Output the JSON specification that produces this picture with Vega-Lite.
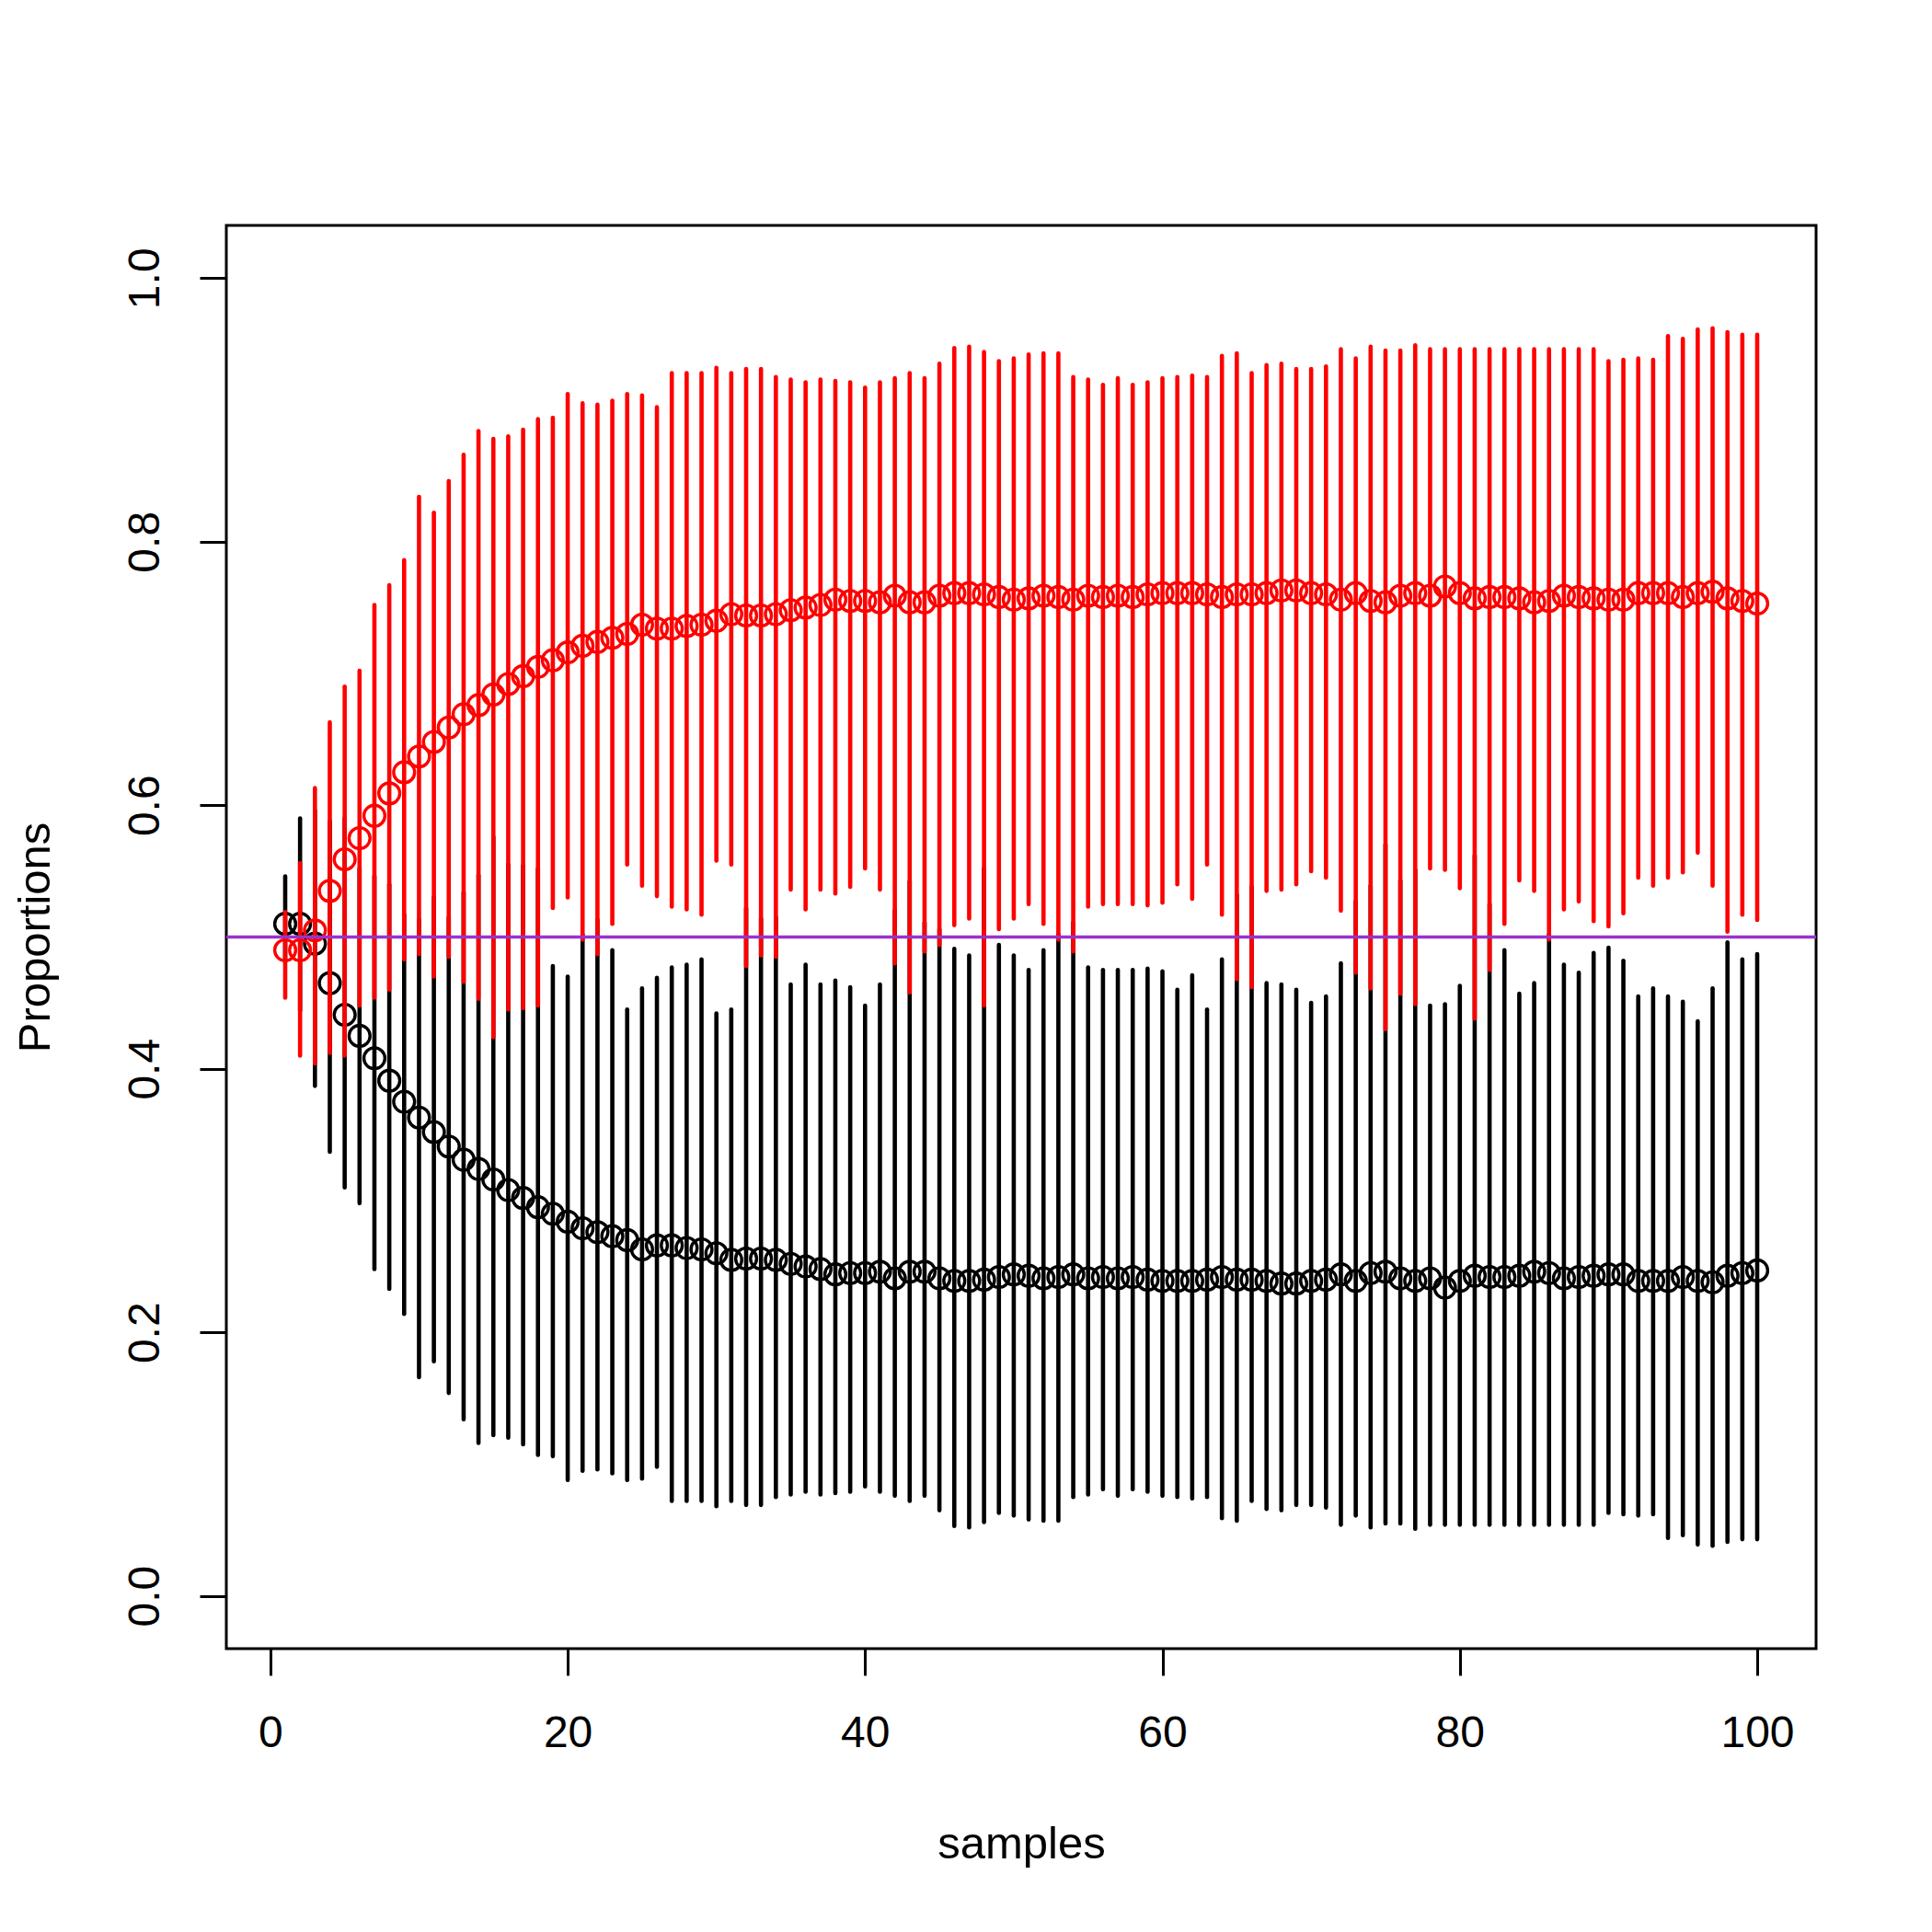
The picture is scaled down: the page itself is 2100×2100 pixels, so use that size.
{
"$schema": "https://vega.github.io/schema/vega-lite/v6.json",
"width": 1728, "height": 1547,
"autosize": {"type": "none"},
"padding": {"left": 246, "top": 245, "right": 126, "bottom": 308},
"background": "white",
"config": {"view": {"stroke": "black", "strokeWidth": 3}, "font": "Liberation Sans"},
"datasets": {
"black": [
{"sample":1,"mean":0.510,"lo":0.481,"hi":0.546},{"sample":2,"mean":0.510,"lo":0.444,"hi":0.590},{"sample":3,"mean":0.495,"lo":0.387,"hi":0.596},{"sample":4,"mean":0.465,"lo":0.337,"hi":0.588},{"sample":5,"mean":0.441,"lo":0.310,"hi":0.590},
{"sample":6,"mean":0.425,"lo":0.298,"hi":0.552},{"sample":7,"mean":0.408,"lo":0.248,"hi":0.546},{"sample":8,"mean":0.391,"lo":0.233,"hi":0.540},{"sample":9,"mean":0.375,"lo":0.214,"hi":0.517},{"sample":10,"mean":0.363,"lo":0.166,"hi":0.513},
{"sample":11,"mean":0.352,"lo":0.178,"hi":0.530},{"sample":12,"mean":0.341,"lo":0.154,"hi":0.515},{"sample":13,"mean":0.331,"lo":0.134,"hi":0.534},{"sample":14,"mean":0.324,"lo":0.116,"hi":0.547},{"sample":15,"mean":0.316,"lo":0.122,"hi":0.576},
{"sample":16,"mean":0.308,"lo":0.120,"hi":0.555},{"sample":17,"mean":0.302,"lo":0.115,"hi":0.554},{"sample":18,"mean":0.295,"lo":0.107,"hi":0.552},{"sample":19,"mean":0.290,"lo":0.106,"hi":0.478},{"sample":20,"mean":0.284,"lo":0.088,"hi":0.470},
{"sample":21,"mean":0.279,"lo":0.095,"hi":0.502},{"sample":22,"mean":0.276,"lo":0.096,"hi":0.513},{"sample":23,"mean":0.273,"lo":0.093,"hi":0.490},{"sample":24,"mean":0.270,"lo":0.088,"hi":0.445},{"sample":25,"mean":0.263,"lo":0.089,"hi":0.461},
{"sample":26,"mean":0.266,"lo":0.098,"hi":0.469},{"sample":27,"mean":0.266,"lo":0.072,"hi":0.477},{"sample":28,"mean":0.264,"lo":0.072,"hi":0.479},{"sample":29,"mean":0.263,"lo":0.072,"hi":0.483},{"sample":30,"mean":0.260,"lo":0.068,"hi":0.442},
{"sample":31,"mean":0.255,"lo":0.072,"hi":0.445},{"sample":32,"mean":0.256,"lo":0.069,"hi":0.522},{"sample":33,"mean":0.256,"lo":0.069,"hi":0.514},{"sample":34,"mean":0.255,"lo":0.075,"hi":0.515},{"sample":35,"mean":0.252,"lo":0.077,"hi":0.464},
{"sample":36,"mean":0.250,"lo":0.079,"hi":0.479},{"sample":37,"mean":0.248,"lo":0.077,"hi":0.464},{"sample":38,"mean":0.244,"lo":0.078,"hi":0.467},{"sample":39,"mean":0.245,"lo":0.079,"hi":0.462},{"sample":40,"mean":0.245,"lo":0.083,"hi":0.448},
{"sample":41,"mean":0.246,"lo":0.079,"hi":0.464},{"sample":42,"mean":0.241,"lo":0.076,"hi":0.520},{"sample":43,"mean":0.246,"lo":0.072,"hi":0.542},{"sample":44,"mean":0.246,"lo":0.076,"hi":0.511},{"sample":45,"mean":0.241,"lo":0.065,"hi":0.506},
{"sample":46,"mean":0.239,"lo":0.053,"hi":0.491},{"sample":47,"mean":0.239,"lo":0.052,"hi":0.486},{"sample":48,"mean":0.240,"lo":0.056,"hi":0.552},{"sample":49,"mean":0.242,"lo":0.063,"hi":0.494},{"sample":50,"mean":0.244,"lo":0.061,"hi":0.486},
{"sample":51,"mean":0.243,"lo":0.058,"hi":0.475},{"sample":52,"mean":0.241,"lo":0.057,"hi":0.490},{"sample":53,"mean":0.242,"lo":0.057,"hi":0.502},{"sample":54,"mean":0.244,"lo":0.075,"hi":0.511},{"sample":55,"mean":0.241,"lo":0.077,"hi":0.477},
{"sample":56,"mean":0.242,"lo":0.081,"hi":0.475},{"sample":57,"mean":0.241,"lo":0.076,"hi":0.475},{"sample":58,"mean":0.242,"lo":0.081,"hi":0.475},{"sample":59,"mean":0.240,"lo":0.079,"hi":0.476},{"sample":60,"mean":0.239,"lo":0.076,"hi":0.474},
{"sample":61,"mean":0.239,"lo":0.075,"hi":0.460},{"sample":62,"mean":0.239,"lo":0.074,"hi":0.471},{"sample":63,"mean":0.240,"lo":0.075,"hi":0.445},{"sample":64,"mean":0.242,"lo":0.059,"hi":0.483},{"sample":65,"mean":0.240,"lo":0.057,"hi":0.532},
{"sample":66,"mean":0.240,"lo":0.072,"hi":0.538},{"sample":67,"mean":0.239,"lo":0.066,"hi":0.465},{"sample":68,"mean":0.237,"lo":0.065,"hi":0.464},{"sample":69,"mean":0.237,"lo":0.069,"hi":0.460},{"sample":70,"mean":0.239,"lo":0.069,"hi":0.450},
{"sample":71,"mean":0.240,"lo":0.067,"hi":0.455},{"sample":72,"mean":0.244,"lo":0.054,"hi":0.480},{"sample":73,"mean":0.239,"lo":0.061,"hi":0.527},{"sample":74,"mean":0.245,"lo":0.052,"hi":0.539},{"sample":75,"mean":0.246,"lo":0.055,"hi":0.570},
{"sample":76,"mean":0.241,"lo":0.055,"hi":0.543},{"sample":77,"mean":0.239,"lo":0.051,"hi":0.551},{"sample":78,"mean":0.241,"lo":0.054,"hi":0.448},{"sample":79,"mean":0.234,"lo":0.054,"hi":0.449},{"sample":80,"mean":0.239,"lo":0.054,"hi":0.463},
{"sample":81,"mean":0.243,"lo":0.054,"hi":0.562},{"sample":82,"mean":0.242,"lo":0.054,"hi":0.525},{"sample":83,"mean":0.242,"lo":0.054,"hi":0.490},{"sample":84,"mean":0.243,"lo":0.054,"hi":0.457},{"sample":85,"mean":0.246,"lo":0.054,"hi":0.465},
{"sample":86,"mean":0.245,"lo":0.054,"hi":0.502},{"sample":87,"mean":0.241,"lo":0.054,"hi":0.479},{"sample":88,"mean":0.242,"lo":0.054,"hi":0.473},{"sample":89,"mean":0.243,"lo":0.054,"hi":0.488},{"sample":90,"mean":0.244,"lo":0.063,"hi":0.492},
{"sample":91,"mean":0.244,"lo":0.062,"hi":0.482},{"sample":92,"mean":0.239,"lo":0.061,"hi":0.455},{"sample":93,"mean":0.239,"lo":0.062,"hi":0.461},{"sample":94,"mean":0.239,"lo":0.044,"hi":0.455},{"sample":95,"mean":0.242,"lo":0.046,"hi":0.451},
{"sample":96,"mean":0.239,"lo":0.039,"hi":0.436},{"sample":97,"mean":0.238,"lo":0.038,"hi":0.461},{"sample":98,"mean":0.243,"lo":0.041,"hi":0.496},{"sample":99,"mean":0.245,"lo":0.043,"hi":0.483},{"sample":100,"mean":0.247,"lo":0.043,"hi":0.487}
],
"red": [
{"sample":1,"mean":0.490,"lo":0.454,"hi":0.519},{"sample":2,"mean":0.490,"lo":0.410,"hi":0.556},{"sample":3,"mean":0.505,"lo":0.404,"hi":0.613},{"sample":4,"mean":0.535,"lo":0.412,"hi":0.663},{"sample":5,"mean":0.559,"lo":0.410,"hi":0.690},
{"sample":6,"mean":0.575,"lo":0.448,"hi":0.702},{"sample":7,"mean":0.592,"lo":0.454,"hi":0.752},{"sample":8,"mean":0.609,"lo":0.460,"hi":0.767},{"sample":9,"mean":0.625,"lo":0.483,"hi":0.786},{"sample":10,"mean":0.637,"lo":0.487,"hi":0.834},
{"sample":11,"mean":0.648,"lo":0.470,"hi":0.822},{"sample":12,"mean":0.659,"lo":0.485,"hi":0.846},{"sample":13,"mean":0.669,"lo":0.466,"hi":0.866},{"sample":14,"mean":0.676,"lo":0.453,"hi":0.884},{"sample":15,"mean":0.684,"lo":0.424,"hi":0.878},
{"sample":16,"mean":0.692,"lo":0.445,"hi":0.880},{"sample":17,"mean":0.698,"lo":0.446,"hi":0.885},{"sample":18,"mean":0.705,"lo":0.448,"hi":0.893},{"sample":19,"mean":0.710,"lo":0.522,"hi":0.894},{"sample":20,"mean":0.716,"lo":0.530,"hi":0.912},
{"sample":21,"mean":0.721,"lo":0.498,"hi":0.905},{"sample":22,"mean":0.724,"lo":0.487,"hi":0.904},{"sample":23,"mean":0.727,"lo":0.510,"hi":0.907},{"sample":24,"mean":0.730,"lo":0.555,"hi":0.912},{"sample":25,"mean":0.737,"lo":0.539,"hi":0.911},
{"sample":26,"mean":0.734,"lo":0.531,"hi":0.902},{"sample":27,"mean":0.734,"lo":0.523,"hi":0.928},{"sample":28,"mean":0.736,"lo":0.521,"hi":0.928},{"sample":29,"mean":0.737,"lo":0.517,"hi":0.928},{"sample":30,"mean":0.740,"lo":0.558,"hi":0.932},
{"sample":31,"mean":0.745,"lo":0.555,"hi":0.928},{"sample":32,"mean":0.744,"lo":0.478,"hi":0.931},{"sample":33,"mean":0.744,"lo":0.486,"hi":0.931},{"sample":34,"mean":0.745,"lo":0.485,"hi":0.925},{"sample":35,"mean":0.748,"lo":0.536,"hi":0.923},
{"sample":36,"mean":0.750,"lo":0.521,"hi":0.921},{"sample":37,"mean":0.752,"lo":0.536,"hi":0.923},{"sample":38,"mean":0.756,"lo":0.533,"hi":0.922},{"sample":39,"mean":0.755,"lo":0.538,"hi":0.921},{"sample":40,"mean":0.755,"lo":0.552,"hi":0.917},
{"sample":41,"mean":0.754,"lo":0.536,"hi":0.921},{"sample":42,"mean":0.759,"lo":0.480,"hi":0.924},{"sample":43,"mean":0.754,"lo":0.458,"hi":0.928},{"sample":44,"mean":0.754,"lo":0.489,"hi":0.924},{"sample":45,"mean":0.759,"lo":0.494,"hi":0.935},
{"sample":46,"mean":0.761,"lo":0.509,"hi":0.947},{"sample":47,"mean":0.761,"lo":0.514,"hi":0.948},{"sample":48,"mean":0.760,"lo":0.448,"hi":0.944},{"sample":49,"mean":0.758,"lo":0.506,"hi":0.937},{"sample":50,"mean":0.756,"lo":0.514,"hi":0.939},
{"sample":51,"mean":0.757,"lo":0.525,"hi":0.942},{"sample":52,"mean":0.759,"lo":0.510,"hi":0.943},{"sample":53,"mean":0.758,"lo":0.498,"hi":0.943},{"sample":54,"mean":0.756,"lo":0.489,"hi":0.925},{"sample":55,"mean":0.759,"lo":0.523,"hi":0.923},
{"sample":56,"mean":0.758,"lo":0.525,"hi":0.919},{"sample":57,"mean":0.759,"lo":0.525,"hi":0.924},{"sample":58,"mean":0.758,"lo":0.525,"hi":0.919},{"sample":59,"mean":0.760,"lo":0.524,"hi":0.921},{"sample":60,"mean":0.761,"lo":0.526,"hi":0.924},
{"sample":61,"mean":0.761,"lo":0.540,"hi":0.925},{"sample":62,"mean":0.761,"lo":0.529,"hi":0.926},{"sample":63,"mean":0.760,"lo":0.555,"hi":0.925},{"sample":64,"mean":0.758,"lo":0.517,"hi":0.941},{"sample":65,"mean":0.760,"lo":0.468,"hi":0.943},
{"sample":66,"mean":0.760,"lo":0.462,"hi":0.928},{"sample":67,"mean":0.761,"lo":0.535,"hi":0.934},{"sample":68,"mean":0.763,"lo":0.536,"hi":0.935},{"sample":69,"mean":0.763,"lo":0.540,"hi":0.931},{"sample":70,"mean":0.761,"lo":0.550,"hi":0.931},
{"sample":71,"mean":0.760,"lo":0.545,"hi":0.933},{"sample":72,"mean":0.756,"lo":0.520,"hi":0.946},{"sample":73,"mean":0.761,"lo":0.473,"hi":0.939},{"sample":74,"mean":0.755,"lo":0.461,"hi":0.948},{"sample":75,"mean":0.754,"lo":0.430,"hi":0.945},
{"sample":76,"mean":0.759,"lo":0.457,"hi":0.945},{"sample":77,"mean":0.761,"lo":0.449,"hi":0.949},{"sample":78,"mean":0.759,"lo":0.552,"hi":0.946},{"sample":79,"mean":0.766,"lo":0.551,"hi":0.946},{"sample":80,"mean":0.761,"lo":0.537,"hi":0.946},
{"sample":81,"mean":0.757,"lo":0.438,"hi":0.946},{"sample":82,"mean":0.758,"lo":0.475,"hi":0.946},{"sample":83,"mean":0.758,"lo":0.510,"hi":0.946},{"sample":84,"mean":0.757,"lo":0.543,"hi":0.946},{"sample":85,"mean":0.754,"lo":0.535,"hi":0.946},
{"sample":86,"mean":0.755,"lo":0.498,"hi":0.946},{"sample":87,"mean":0.759,"lo":0.521,"hi":0.946},{"sample":88,"mean":0.758,"lo":0.527,"hi":0.946},{"sample":89,"mean":0.757,"lo":0.512,"hi":0.946},{"sample":90,"mean":0.756,"lo":0.508,"hi":0.937},
{"sample":91,"mean":0.756,"lo":0.518,"hi":0.938},{"sample":92,"mean":0.761,"lo":0.545,"hi":0.939},{"sample":93,"mean":0.761,"lo":0.539,"hi":0.938},{"sample":94,"mean":0.761,"lo":0.545,"hi":0.956},{"sample":95,"mean":0.758,"lo":0.549,"hi":0.954},
{"sample":96,"mean":0.761,"lo":0.564,"hi":0.961},{"sample":97,"mean":0.762,"lo":0.539,"hi":0.962},{"sample":98,"mean":0.757,"lo":0.504,"hi":0.959},{"sample":99,"mean":0.755,"lo":0.517,"hi":0.957},{"sample":100,"mean":0.753,"lo":0.513,"hi":0.957}
]
},
"layer": [
{"data": {"name": "black"},
 "mark": {"type": "point", "shape": "circle", "filled": false, "color": "black", "stroke": "black", "strokeWidth": 3.4, "size": 520, "opacity": 1},
 "encoding": {
  "x": {"field": "sample", "type": "quantitative",
        "scale": {"domain": [-2.96, 103.96], "nice": false, "zero": false},
        "axis": {"values": [0, 20, 40, 60, 80, 100], "grid": false, "domain": false, "ticks": true, "tickColor": "black", "tickWidth": 3, "tickSize": 29,
                 "labelFontSize": 48, "labelColor": "black", "labelFont": "Liberation Sans", "labelPadding": 63, "labelBaseline": "middle", "labelFlush": false, "labelOverlap": false,
                 "title": "samples", "titleFontSize": 49, "titleFontWeight": "normal", "titleColor": "black", "titleFont": "Liberation Sans",
                 "titleX": 864, "titleY": 212, "titleAlign": "center", "titleBaseline": "middle"}},
  "y": {"field": "mean", "type": "quantitative",
        "scale": {"domain": [-0.04, 1.04], "nice": false, "zero": false},
        "axis": {"values": [0, 0.2, 0.4, 0.6, 0.8, 1], "format": ".1f", "grid": false, "domain": false, "ticks": true, "tickColor": "black", "tickWidth": 3, "tickSize": 29,
                 "labelFontSize": 48, "labelColor": "black", "labelFont": "Liberation Sans", "labelAngle": 270, "labelAlign": "center", "labelBaseline": "middle", "labelPadding": 59, "labelFlush": false, "labelOverlap": false,
                 "title": "Proportions", "titleFontSize": 49, "titleFontWeight": "normal", "titleColor": "black", "titleFont": "Liberation Sans",
                 "titleX": -208, "titleY": 773.5, "titleAngle": 270, "titleAlign": "center", "titleBaseline": "middle"}}
 }},
{"data": {"name": "black"},
 "mark": {"type": "rule", "color": "black", "strokeWidth": 4.6, "strokeCap": "round"},
 "encoding": {
  "x": {"field": "sample", "type": "quantitative"},
  "y": {"field": "lo", "type": "quantitative"},
  "y2": {"field": "hi"}
 }},
{"data": {"name": "red"},
 "mark": {"type": "point", "shape": "circle", "filled": false, "color": "#FF0000", "stroke": "#FF0000", "strokeWidth": 3.4, "size": 520, "opacity": 1},
 "encoding": {
  "x": {"field": "sample", "type": "quantitative"},
  "y": {"field": "mean", "type": "quantitative"}
 }},
{"data": {"name": "red"},
 "mark": {"type": "rule", "color": "#FF0000", "strokeWidth": 4.6, "strokeCap": "round"},
 "encoding": {
  "x": {"field": "sample", "type": "quantitative"},
  "y": {"field": "lo", "type": "quantitative"},
  "y2": {"field": "hi"}
 }},
{"data": {"values": [{}]},
 "mark": {"type": "rule", "color": "#9932CC", "strokeWidth": 3.5},
 "encoding": {"y": {"datum": 0.5, "type": "quantitative"}}}
]
}
